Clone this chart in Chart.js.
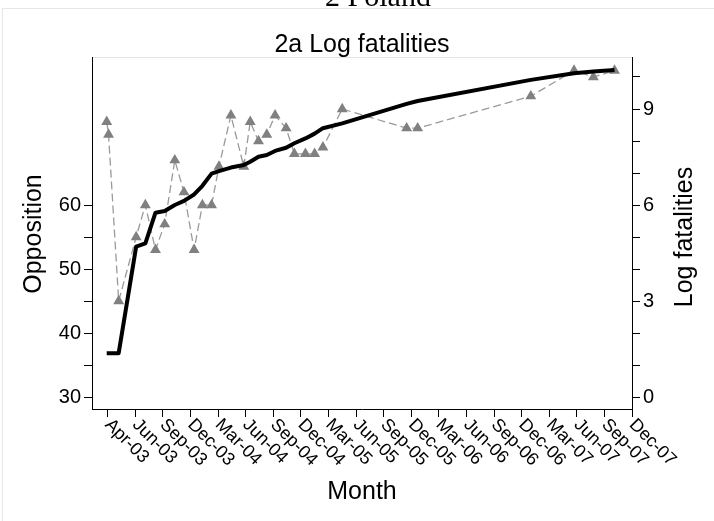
<!DOCTYPE html>
<html>
<head>
<meta charset="utf-8">
<script src="https://cdn.jsdelivr.net/npm/chart.js@4"></script>
<style>
html, body { margin: 0; padding: 0; background: #fff; }
#wrap { width: 714px; height: 521px; }
</style>
</head>
<body>
<div id="wrap"><canvas id="c" width="714" height="521"></canvas></div>
<script>
// Survey dates as months counted from April 2003 (fraction = position within the month)
const months = [-0.1, 0.1, 1.2, 3.1, 4.1, 5.2, 6.2, 7.3, 8.3, 9.4, 10.3, 11.3, 12.1, 13.4, 14.8, 15.5,
                16.4, 17.3, 18.2, 19.4, 20.3, 21.5, 22.5, 23.4, 25.5, 32.5, 33.7, 46.0, 50.7, 52.8, 55.1];

// Share opposed (%), left axis
const opposition = [73, 71, 45, 55, 60, 53, 57, 67, 62, 53, 60, 60, 66, 74, 66, 73,
                    70, 71, 74, 72, 68, 68, 68, 69, 75, 72, 72, 77, 81, 80, 81];

// Log of cumulative fatalities, right axis
const logFatalities = [1.37, 1.37, 1.37, 4.70, 4.80, 5.76, 5.81, 6.00, 6.13, 6.33, 6.60, 6.98, 7.06, 7.17, 7.25, 7.35,
                       7.51, 7.56, 7.69, 7.79, 7.93, 8.08, 8.23, 8.40, 8.55, 9.16, 9.25, 9.91, 10.12, 10.17, 10.22];

// Axis ticks
const xTickValues = [0, 3, 6, 9, 12, 15, 18, 21, 24, 27, 30, 33, 36, 39, 42, 45, 48, 51, 54, 57];
const xTickLabels = ['Apr-03', 'Jun-03', 'Sep-03', 'Dec-03', 'Mar-04', 'Jun-04', 'Sep-04', 'Dec-04',
                     'Mar-05', 'Jun-05', 'Sep-05', 'Dec-05', 'Mar-06', 'Jun-06', 'Sep-06', 'Dec-06',
                     'Mar-07', 'Jun-07', 'Sep-07', 'Dec-07'];
const leftTickValues = [30, 35, 40, 45, 50, 55, 60];
const leftTickLabels = ['30', '', '40', '', '50', '', '60'];
const rightTickValues = [0, 1, 2, 3, 4, 5, 6, 7, 8, 9, 10];
const rightTickLabels = ['0', '', '', '3', '', '', '6', '', '', '9', ''];

const SANS = "'Liberation Sans', Arial, Helvetica, sans-serif";
const SERIF = "'Liberation Serif', 'Times New Roman', serif";

const oppPoints = months.map((m, i) => ({ x: m, y: opposition[i] }));
const fatPoints = months.map((m, i) => ({ x: m, y: logFatalities[i] }));

function fixedTicks(values) {
  return scale => { scale.ticks = values.map(v => ({ value: v })); };
}
function labelFor(values, labels) {
  return v => { const i = values.indexOf(v); return i >= 0 ? labels[i] : ''; };
}

const axisGrid = { drawOnChartArea: false, drawTicks: true, tickLength: 8, color: '#000', lineWidth: 1 };
const axisBorder = { display: true, color: '#000', width: 1 };

const decorations = {
  id: 'decorations',
  beforeDraw(chart) {
    const { ctx, chartArea } = chart;
    ctx.save();
    ctx.fillStyle = '#fff';
    ctx.fillRect(0, 0, chart.width, chart.height);
    // outer panel frame
    ctx.strokeStyle = '#e6e6e6';
    ctx.lineWidth = 1;
    ctx.strokeRect(2.5, 8.5, chart.width + 10, chart.height + 10);
    // faint top edge of the plot region
    ctx.strokeStyle = '#e4e4e4';
    ctx.beginPath();
    ctx.moveTo(chartArea.left, chartArea.top + 0.5);
    ctx.lineTo(chartArea.right, chartArea.top + 0.5);
    ctx.stroke();
    ctx.restore();
  },
  afterDraw(chart) {
    const { ctx, chartArea, scales } = chart;
    const midX = (chartArea.left + chartArea.right) / 2;
    ctx.save();
    ctx.fillStyle = '#000';

    // slanted month labels
    ctx.font = `18px ${SANS}`;
    ctx.textAlign = 'left';
    ctx.textBaseline = 'middle';
    xTickValues.forEach((v, i) => {
      const px = scales.x.getPixelForValue(v);
      ctx.save();
      ctx.translate(px, chartArea.bottom + 13);
      ctx.rotate(Math.PI / 4);
      ctx.fillText(xTickLabels[i], 0, 0);
      ctx.restore();
    });

    // titles
    ctx.textBaseline = 'alphabetic';
    ctx.textAlign = 'center';
    ctx.font = `30px ${SERIF}`;
    ctx.fillText('2 Poland', 378, 6);
    ctx.font = `25px ${SANS}`;
    ctx.fillText('2a Log fatalities', midX, 52);
    ctx.fillText('Month', midX, 499);

    // vertical axis titles
    ctx.save();
    ctx.translate(41, 234);
    ctx.rotate(-Math.PI / 2);
    ctx.fillText('Opposition', 0, 0);
    ctx.restore();
    ctx.save();
    ctx.translate(692, 237);
    ctx.rotate(-Math.PI / 2);
    ctx.fillText('Log fatalities', 0, 0);
    ctx.restore();

    ctx.restore();
  }
};

new Chart(document.getElementById('c'), {
  type: 'line',
  data: {
    datasets: [
      {
        label: 'Log fatalities',
        data: fatPoints,
        yAxisID: 'y2',
        borderColor: '#000',
        borderWidth: 4,
        borderJoinStyle: 'round',
        pointRadius: 0,
        tension: 0,
        fill: false
      },
      {
        label: 'Opposition',
        data: oppPoints,
        yAxisID: 'y',
        borderColor: '#9a9a9a',
        borderWidth: 1.3,
        borderDash: [8, 4],
        pointStyle: 'triangle',
        pointRadius: 6.3,
        pointBackgroundColor: '#808080',
        pointBorderColor: '#808080',
        pointBorderWidth: 0,
        tension: 0,
        fill: false
      }
    ]
  },
  options: {
    responsive: false,
    animation: false,
    devicePixelRatio: 1,
    layout: { padding: { top: 57, left: 0, right: 0, bottom: 0 } },
    plugins: { legend: { display: false }, tooltip: { enabled: false }, title: { display: false } },
    scales: {
      x: {
        type: 'linear',
        min: -1.7,
        max: 57,
        afterBuildTicks: fixedTicks(xTickValues),
        afterFit: s => { s.height = 112; },
        ticks: { display: false, autoSkip: false },
        grid: axisGrid,
        border: axisBorder
      },
      y: {
        type: 'linear',
        position: 'left',
        min: 28.125,
        max: 83.125,
        afterBuildTicks: fixedTicks(leftTickValues),
        afterFit: s => { s.width = 92; },
        ticks: { autoSkip: false, padding: 3, color: '#000', font: { family: SANS, size: 20 },
                 callback: labelFor(leftTickValues, leftTickLabels) },
        grid: axisGrid,
        border: axisBorder
      },
      y2: {
        type: 'linear',
        position: 'right',
        min: -0.375,
        max: 10.625,
        afterBuildTicks: fixedTicks(rightTickValues),
        afterFit: s => { s.width = 82; },
        ticks: { autoSkip: false, padding: 3, color: '#000', font: { family: SANS, size: 20 },
                 callback: labelFor(rightTickValues, rightTickLabels) },
        grid: axisGrid,
        border: axisBorder
      }
    }
  },
  plugins: [decorations]
});
</script>
</body>
</html>
